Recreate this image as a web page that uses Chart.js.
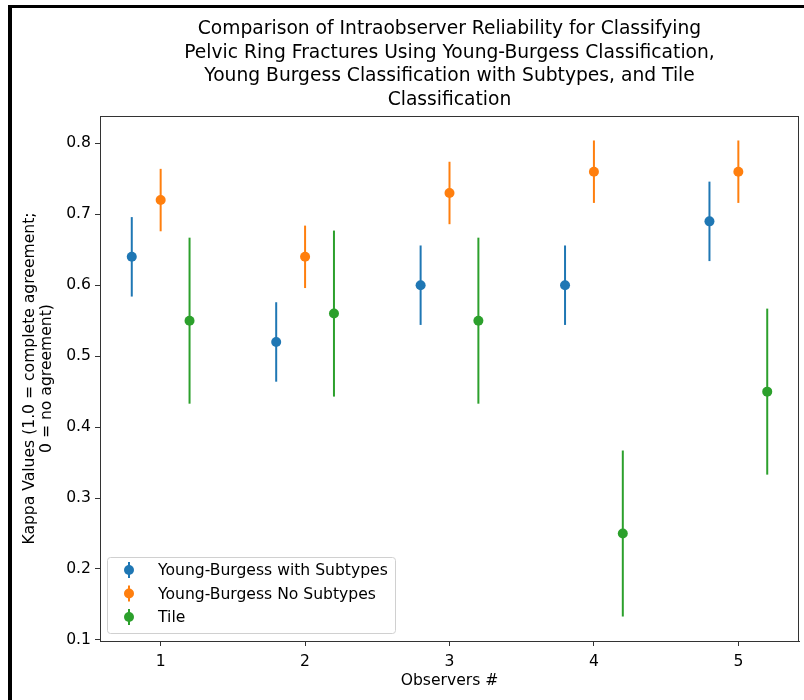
<!DOCTYPE html>
<html>
<head>
<meta charset="utf-8">
<script src="https://cdn.jsdelivr.net/npm/chart.js@4.4.1/dist/chart.umd.min.js"></script>
<style>
  body { margin: 0; background: #fff; }
  #wrap { position: relative; width: 804px; height: 700px; }
  #frame {
    position: absolute; left: 8px; top: 5px; right: 0; bottom: 0;
    border-top: 3px solid #000; border-left: 4px solid #000;
    pointer-events: none;
  }
</style>
</head>
<body>
<div id="wrap">
  <canvas id="chart" width="804" height="700"></canvas>
  <div id="frame"></div>
</div>
<script>
// observers on the x axis
const observers = [1, 2, 3, 4, 5];

// kappa values per classification
const withSubtypes = [0.64, 0.52, 0.60, 0.60, 0.69];
const noSubtypes = [0.72, 0.64, 0.73, 0.76, 0.76];
const tile = [0.55, 0.56, 0.55, 0.25, 0.45];

// error bar half-lengths
const withSubtypesErr = [0.056, 0.056, 0.056, 0.056, 0.056];
const noSubtypesErr = [0.044, 0.044, 0.044, 0.044, 0.044];
const tileErr = [0.117, 0.117, 0.117, 0.117, 0.117];

const seriesNames = ['Young-Burgess with Subtypes', 'Young-Burgess No Subtypes', 'Tile'];
const yTicks = [0.1, 0.2, 0.3, 0.4, 0.5, 0.6, 0.7, 0.8];
const titleLines = [
    'Comparison of Intraobserver Reliability for Classifying',
    'Pelvic Ring Fractures Using Young-Burgess Classification,',
    'Young Burgess Classification with Subtypes, and Tile',
    'Classification'
];

const colors = ['#1f77b4', '#ff7f0e', '#2ca02c'];
const offsets = [-0.2, 0, 0.2];
const font = 'DejaVu Sans';
const fs = 15.6;

function makeSeries(values, errs, i) {
    return {
        label: seriesNames[i],
        data: values.map((v, k) => ({ x: observers[k] + offsets[i], y: v, err: errs[k] })),
        backgroundColor: colors[i],
        borderColor: colors[i],
        pointRadius: 5,
        pointHoverRadius: 5,
        pointBorderWidth: 0,
        showLine: false
    };
}

// vertical error bars, drawn under the markers
const errorBars = {
    id: 'errorBars',
    beforeDatasetsDraw(chart) {
        const ctx = chart.ctx;
        const yScale = chart.scales.y;
        chart.data.datasets.forEach((ds, i) => {
            const meta = chart.getDatasetMeta(i);
            ctx.save();
            ctx.strokeStyle = ds.borderColor;
            ctx.lineWidth = 2;
            meta.data.forEach((pt, k) => {
                const d = ds.data[k];
                ctx.beginPath();
                ctx.moveTo(pt.x, yScale.getPixelForValue(d.y - d.err));
                ctx.lineTo(pt.x, yScale.getPixelForValue(d.y + d.err));
                ctx.stroke();
            });
            ctx.restore();
        });
    }
};

// top and right spines + title centred over the axes
const axesBox = {
    id: 'axesBox',
    afterDatasetsDraw(chart) {
        const a = chart.chartArea;
        const ctx = chart.ctx;
        ctx.save();
        ctx.strokeStyle = '#333';
        ctx.lineWidth = 1;
        ctx.strokeRect(a.left + 0.5, a.top + 0.5, a.right - a.left - 1, a.bottom - a.top);
        ctx.fillStyle = '#000';
        ctx.font = '18.7px "' + font + '"';
        ctx.textAlign = 'center';
        ctx.textBaseline = 'middle';
        titleLines.forEach((t, i) => ctx.fillText(t, (a.left + a.right) / 2, 29 + i * 23.7));
        ctx.restore();
    }
};

// matplotlib style legend in lower left
const boxLegend = {
    id: 'boxLegend',
    afterDraw(chart) {
        const ctx = chart.ctx;
        const a = chart.chartArea;
        const x0 = a.left + 7, y0 = a.bottom - 84, w = 288, h = 76;
        ctx.save();
        ctx.fillStyle = 'rgba(255,255,255,0.8)';
        ctx.strokeStyle = '#d0d0d0';
        ctx.lineWidth = 1;
        ctx.beginPath();
        ctx.roundRect(x0 + 0.5, y0 + 0.5, w, h, 3);
        ctx.fill();
        ctx.stroke();
        ctx.font = fs + 'px "' + font + '"';
        ctx.textBaseline = 'middle';
        chart.data.datasets.forEach((ds, i) => {
            const cy = y0 + 13 + i * 23.5;
            const cx = x0 + 22;
            ctx.strokeStyle = ds.borderColor;
            ctx.lineWidth = 2;
            ctx.beginPath();
            ctx.moveTo(cx, cy - 8);
            ctx.lineTo(cx, cy + 8);
            ctx.stroke();
            ctx.fillStyle = ds.backgroundColor;
            ctx.beginPath();
            ctx.arc(cx, cy, 5, 0, Math.PI * 2);
            ctx.fill();
            ctx.fillStyle = '#000';
            ctx.fillText(ds.label, x0 + 51, cy + 1);
        });
        ctx.restore();
    }
};

new Chart(document.getElementById('chart'), {
    type: 'scatter',
    data: {
        datasets: [
            makeSeries(withSubtypes, withSubtypesErr, 0),
            makeSeries(noSubtypes, noSubtypesErr, 1),
            makeSeries(tile, tileErr, 2)
        ]
    },
    options: {
        responsive: false,
        animation: false,
        layout: { padding: { left: 0, right: 4, top: 116, bottom: 0 } },
        plugins: {
            legend: { display: false },
            tooltip: { enabled: false }
        },
        scales: {
            x: {
                type: 'linear',
                min: 0.58,
                max: 5.42,
                afterFit(s) { s.height = 59; },
                border: { display: true, color: '#333' },
                grid: { drawOnChartArea: false, drawTicks: true, tickLength: 5, color: '#333' },
                afterBuildTicks(s) { s.ticks = observers.map(v => ({ value: v })); },
                ticks: {
                    color: '#000',
                    padding: 7,
                    font: { family: font, size: fs },
                    callback: v => String(v)
                },
                title: {
                    display: true,
                    text: 'Observers #',
                    color: '#000',
                    font: { family: font, size: fs },
                    padding: { top: 2, bottom: 10 }
                }
            },
            y: {
                min: 0.0985,
                max: 0.8385,
                afterFit(s) { s.width = 100; },
                border: { display: true, color: '#333' },
                grid: { drawOnChartArea: false, drawTicks: true, tickLength: 5, color: '#333' },
                afterBuildTicks(s) { s.ticks = yTicks.map(v => ({ value: v })); },
                ticks: {
                    color: '#000',
                    padding: 4,
                    font: { family: font, size: fs },
                    callback: v => v.toFixed(1)
                },
                title: {
                    display: true,
                    text: ['Kappa Values (1.0 = complete agreement;', '0 = no agreement)'],
                    color: '#000',
                    font: { family: font, size: fs, lineHeight: 1.1 },
                    padding: { top: 21.5, bottom: 0 }
                }
            }
        }
    },
    plugins: [errorBars, axesBox, boxLegend]
});
</script>
</body>
</html>
